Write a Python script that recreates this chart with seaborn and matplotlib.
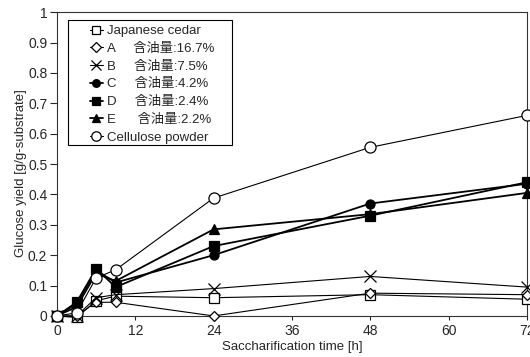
import numpy as np
import pandas as pd
import matplotlib
matplotlib.use("Agg")
import matplotlib.pyplot as plt
from matplotlib.patches import Rectangle
import seaborn as sns

sns.set_style("ticks")
plt.rcParams["font.family"] = ["Liberation Sans", "Noto Sans CJK JP", "DejaVu Sans"]

times = [0, 3, 6, 9, 24, 48, 72]

cedar = [0.0, -0.005, 0.05, 0.065, 0.06, 0.07, 0.055]
sample_a = [0.0, 0.0, 0.045, 0.045, 0.0, 0.075, 0.07]
sample_b = [0.0, 0.0, 0.06, 0.07, 0.09, 0.13, 0.095]
sample_c = [0.0, 0.04, 0.15, 0.11, 0.20, 0.37, 0.435]
sample_d = [0.0, 0.045, 0.155, 0.095, 0.23, 0.33, 0.44]
sample_e = [0.0, 0.03, 0.14, 0.115, 0.285, 0.335, 0.405]
cellulose = [0.0, 0.01, 0.125, 0.152, 0.388, 0.555, 0.66]

labels = ["Japanese cedar",
          "A     含油量:16.7%",
          "B     含油量:7.5%",
          "C     含油量:4.2%",
          "D     含油量:2.4%",
          "E      含油量:2.2%",
          "Cellulose powder"]

series = [cedar, sample_a, sample_b, sample_c, sample_d, sample_e, cellulose]

# marker, face colour, marker size, line width
styles = [("s", "white", 6.5, 0.8),
          ("D", "white", 5.5, 0.8),
          ("x", "black", 8, 0.8),
          ("o", "black", 6.5, 1.3),
          ("s", "black", 6.5, 1.3),
          ("^", "black", 6.5, 1.3),
          ("o", "white", 8, 0.8)]

fig, ax = plt.subplots(figsize=(5.3, 3.57), dpi=100)
fig.subplots_adjust(left=0.1075, right=0.994, bottom=0.115, top=0.966)

for vals, lab, (mk, fc, ms, lw) in zip(series, labels, styles):
    df = pd.DataFrame({"time": times, "yield": vals})
    sns.lineplot(data=df, x="time", y="yield", ax=ax, color="black",
                 marker=mk, markerfacecolor=fc, markeredgecolor="black",
                 markersize=ms, markeredgewidth=0.9, linewidth=lw,
                 label=lab, clip_on=False, zorder=3)

ax.set_xlim(0, 72)
ax.set_ylim(0, 1)
ax.set_xticks(np.arange(0, 73, 12))
ax.set_yticks(np.arange(0, 1.01, 0.1))
ax.set_yticklabels(["0", "0.1", "0.2", "0.3", "0.4", "0.5", "0.6",
                    "0.7", "0.8", "0.9", "1"])
ax.tick_params(axis="y", direction="out", length=5, width=0.8, labelsize=10, pad=2)
ax.tick_params(axis="x", direction="out", length=3, width=0.8, labelsize=10, pad=3)
for sp in ax.spines.values():
    sp.set_linewidth(0.8)
    sp.set_color("#333333")

ax.set_xlabel("Saccharification time [h]", fontsize=9.5, labelpad=2)
ax.set_ylabel("Glucose yield [g/g-substrate]", fontsize=9.5)
ax.yaxis.set_label_coords(-0.064, 0.47)

leg = ax.legend(loc="upper left", bbox_to_anchor=(0.07, 0.958),
                fontsize=9.5, handlelength=1.0, handletextpad=0.3,
                labelspacing=0.42, borderpad=0, frameon=False,
                borderaxespad=0, markerscale=0.85)

# legend frame, drawn a bit wider than the entries like the original
ax.add_patch(Rectangle((0.0234, 0.5625), 0.3486, 0.4115, transform=ax.transAxes,
                       facecolor="none", edgecolor="black", linewidth=0.8,
                       zorder=4))

fig.savefig("out.png", dpi=100)
